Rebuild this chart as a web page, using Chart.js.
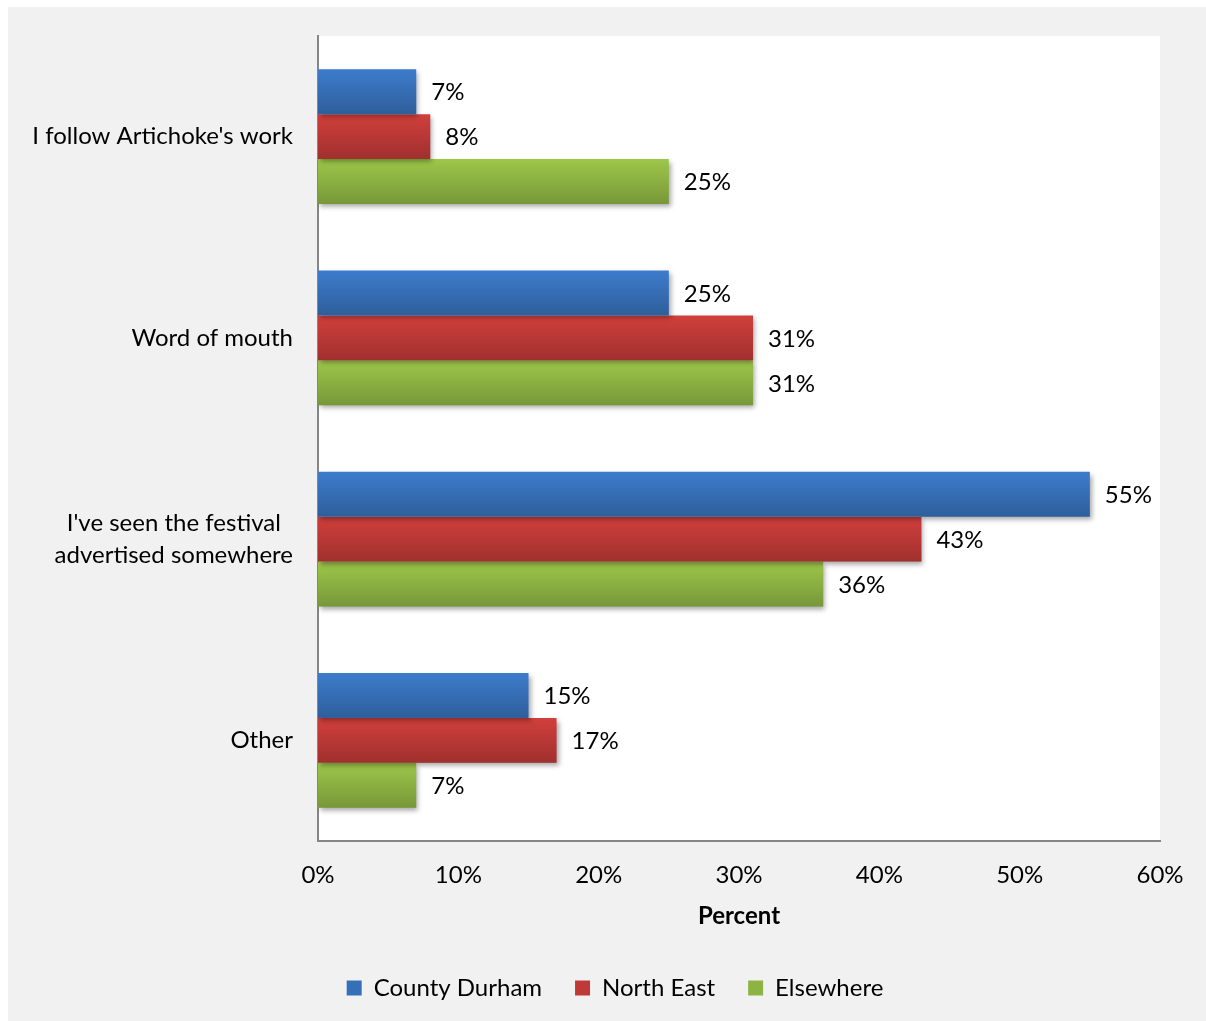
<!DOCTYPE html>
<html>
<head>
<meta charset="utf-8">
<title>How did you hear about the festival?</title>
<script src="https://cdn.jsdelivr.net/npm/chart.js@4/dist/chart.umd.min.js"></script>
<style>
  html, body { margin: 0; padding: 0; background: #ffffff; }
  #wrap { width: 1206px; height: 1021px; position: relative; }
</style>
</head>
<body>
<div id="wrap"><canvas id="chart" width="1206" height="1021"></canvas></div>
<script>
// Survey answers (share of respondents, %)
const categories = [
  "I follow Artichoke's work",
  "Word of mouth",
  ["I've seen the festival", "advertised somewhere"],
  "Other"
];
const countyDurham = [7, 25, 55, 15];
const northEast = [8, 31, 43, 17];
const elsewhere = [25, 31, 36, 7];
const xTicks = [0, 10, 20, 30, 40, 50, 60];

const FONT = "Lato, 'Open Sans', sans-serif";
const FONT_SIZE = 24;
const colours = {
  blue: '#3d7ccc',
  red: '#d13f3c',
  green: '#9dc74a'
};

// Grey frame and white plot panel
const backdrop = {
  id: 'backdrop',
  beforeDraw(chart) {
    const { ctx, chartArea: a } = chart;
    ctx.save();
    ctx.fillStyle = '#f1f1f1';
    ctx.fillRect(8, 7, chart.width - 8, chart.height - 7);
    ctx.fillStyle = '#ffffff';
    ctx.fillRect(a.left, a.top, a.right - a.left, a.bottom - a.top);
    ctx.restore();
  }
};

// Soft drop shadow under the bars, a top-to-bottom shading and value labels
const barFinish = {
  id: 'barFinish',
  beforeDatasetsDraw(chart) {
    const ctx = chart.ctx;
    ctx.save();
    ctx.shadowColor = 'rgba(0,0,0,0.35)';
    ctx.shadowBlur = 5;
    ctx.shadowOffsetX = 2;
    ctx.shadowOffsetY = 3;
  },
  afterDatasetsDraw(chart) {
    const ctx = chart.ctx;
    ctx.restore();
    ctx.save();
    chart.data.datasets.forEach((ds, di) => {
      const meta = chart.getDatasetMeta(di);
      meta.data.forEach((bar, i) => {
        const top = bar.y - bar.height / 2;
        const bottom = bar.y + bar.height / 2;
        const g = ctx.createLinearGradient(0, top, 0, bottom);
        g.addColorStop(0, 'rgba(0,0,0,0)');
        g.addColorStop(1, 'rgba(0,0,0,0.24)');
        ctx.fillStyle = g;
        ctx.fillRect(bar.base, top, bar.x - bar.base, bottom - top);

        ctx.fillStyle = '#000000';
        ctx.font = FONT_SIZE + 'px ' + FONT;
        ctx.textAlign = 'left';
        ctx.textBaseline = 'middle';
        ctx.fillText(ds.data[i] + '%', bar.x + 15, bar.y + 1);
      });
    });
    ctx.restore();
  }
};

// Category names, right-aligned block with centred lines
const categoryLabels = {
  id: 'categoryLabels',
  afterDraw(chart) {
    const ctx = chart.ctx;
    const y = chart.scales.y;
    ctx.save();
    ctx.font = FONT_SIZE + 'px ' + FONT;
    ctx.fillStyle = '#000000';
    ctx.textBaseline = 'middle';
    const right = chart.chartArea.left - 25;
    const lh = 32;
    y.getLabels().forEach((label, i) => {
      const lines = Array.isArray(label) ? label : [label];
      const widest = Math.max(...lines.map(l => ctx.measureText(l).width));
      const cx = right - widest / 2;
      const cy = y.getPixelForValue(i);
      ctx.textAlign = 'center';
      lines.forEach((l, k) => {
        ctx.fillText(l, cx, cy + (k - (lines.length - 1) / 2) * lh);
      });
    });
    ctx.restore();
  }
};

const solid = { blue: '#3470b8', red: '#bf3936', green: '#8db443' };

new Chart(document.getElementById('chart'), {
  type: 'bar',
  data: {
    labels: categories,
    datasets: [
      { label: 'County Durham', data: countyDurham, backgroundColor: colours.blue },
      { label: 'North East', data: northEast, backgroundColor: colours.red },
      { label: 'Elsewhere', data: elsewhere, backgroundColor: colours.green }
    ]
  },
  options: {
    indexAxis: 'y',
    responsive: false,
    animation: false,
    devicePixelRatio: 1,
    categoryPercentage: 0.67,
    barPercentage: 1.0,
    layout: { padding: { left: 70, top: 36, right: 46, bottom: 11 } },
    scales: {
      y: {
        grid: { display: false, drawTicks: false },
        border: { display: true, color: '#868686', width: 2 },
        ticks: { display: false },
        afterFit(s) { s.width = 248; }
      },
      x: {
        min: 0,
        max: 60,
        grid: { display: false, drawTicks: false },
        border: { display: true, color: '#868686', width: 2 },
        afterBuildTicks(s) { s.ticks = xTicks.map(v => ({ value: v })); },
        ticks: {
          padding: 20,
          color: '#000000',
          font: { family: FONT, size: FONT_SIZE },
          callback: v => v + '%'
        },
        title: {
          display: true,
          text: 'Percent',
          color: '#000000',
          font: { family: FONT, size: FONT_SIZE, weight: 'bold' },
          padding: { top: 0, bottom: 12 }
        },
        afterFit(s) { s.height = 102; }
      }
    },
    plugins: {
      tooltip: { enabled: false },
      legend: {
        position: 'bottom',
        labels: {
          color: '#000000',
          font: { family: FONT, size: FONT_SIZE },
          boxWidth: 15,
          boxHeight: 15,
          padding: 33,
          generateLabels(chart) {
            const fills = [solid.blue, solid.red, solid.green];
            return chart.data.datasets.map((ds, i) => ({
              text: ds.label,
              fillStyle: fills[i],
              strokeStyle: fills[i],
              lineWidth: 0,
              hidden: false,
              datasetIndex: i,
              fontColor: '#000000'
            }));
          }
        }
      }
    }
  },
  plugins: [backdrop, barFinish, categoryLabels]
});
</script>
</body>
</html>
